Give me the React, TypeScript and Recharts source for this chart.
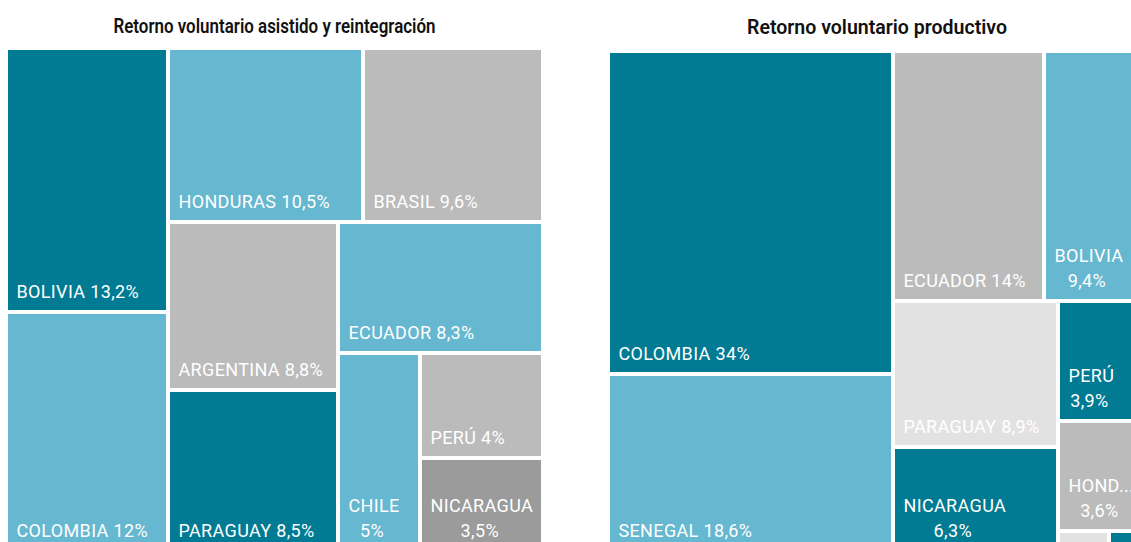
import React from 'react';
import { Treemap } from 'recharts';

const TEAL = '#007B93';
const LIGHT = '#66B7D0';
const GRAY = '#BBBBBB';
const LIGHTGRAY = '#E2E2E2';
const DARKGRAY = '#9B9B9B';

const leftTitle = 'Retorno voluntario asistido y reintegración';
const leftNames = ['BOLIVIA', 'COLOMBIA', 'HONDURAS', 'BRASIL', 'ARGENTINA', 'PARAGUAY', 'ECUADOR', 'CHILE', 'PERÚ', 'NICARAGUA'];
const leftValues = [13.2, 12, 10.5, 9.6, 8.8, 8.5, 8.3, 5, 4, 3.5];
const leftColors = [TEAL, LIGHT, LIGHT, GRAY, GRAY, TEAL, LIGHT, LIGHT, GRAY, DARKGRAY];

const rightTitle = 'Retorno voluntario productivo';
const rightNames = ['COLOMBIA', 'SENEGAL', 'ECUADOR', 'BOLIVIA', 'PARAGUAY', 'NICARAGUA', 'PERÚ', 'HONDURAS', 'OTRO 1', 'OTRO 2'];
const rightValues = [34, 18.6, 14, 9.4, 8.9, 6.3, 3.9, 3.6, 0.38, 0.27];
const rightColors = [TEAL, LIGHT, GRAY, LIGHT, LIGHTGRAY, TEAL, TEAL, GRAY, LIGHTGRAY, TEAL];
const rightGroups = [0, 0, 1, 1, 2, 2, 2, 2, 2, 2];
const rightSubGroups = [0, 0, 0, 0, 0, 0, 1, 1, 1, 1];

const FS = 18;
const LS = 0.35;
const FONT = 'Roboto';

const fmtPct = (v: number) => String(v).replace('.', ',') + '%';

const leftData = leftNames.map((n, i) => ({ name: n, value: leftValues[i], color: leftColors[i], pct: fmtPct(leftValues[i]) }));

const buildNested = () => {
  const groups: any[] = [];
  rightNames.forEach((n, i) => {
    const g = rightGroups[i];
    const s = rightSubGroups[i];
    if (!groups[g]) groups[g] = { name: 'g' + g, children: [] };
    const grp = groups[g];
    if (!grp.children[s]) grp.children[s] = { name: 'g' + g + 's' + s, children: [] };
    grp.children[s].children.push({ name: n, value: rightValues[i], color: rightColors[i], pct: fmtPct(rightValues[i]) });
  });
  return groups;
};
const rightData = buildNested();

let ctx: CanvasRenderingContext2D | null = null;
const measure = (t: string) => {
  if (!ctx) ctx = document.createElement('canvas').getContext('2d');
  if (!ctx) return t.length * FS * 0.6;
  ctx.font = `400 ${FS}px ${FONT}`;
  return ctx.measureText(t).width + t.length * LS;
};

const Tile = (props: any) => {
  const { x, y, width, height, children, color, name, pct } = props;
  if (children && children.length) return <g />;
  if (!width || !height) return <g />;
  const inset = 2;
  const fx = x + inset;
  const fy = y + inset;
  const fw = width - 2 * inset;
  const fh = height - 2 * inset;
  const tx = fx + 8.5;
  const baseline = fy + fh - 11.6;
  const avail = fw - 16;
  let label: any = null;
  const tStyle = { fill: '#fff', fontFamily: FONT, fontSize: FS, fontWeight: 400, letterSpacing: LS } as any;
  if (fh > 45 && fw > 30) {
    const full = `${name} ${pct}`;
    if (measure(full) <= avail) {
      label = (
        <text x={tx} y={baseline} style={tStyle}>
          {full}
        </text>
      );
    } else {
      let first = name as string;
      const availWord = fw - 12;
      if (measure(first) > availWord) {
        while (first.length > 1 && measure(first + '...') > availWord) first = first.slice(0, -1);
        first = first + '...';
      }
      const w1 = measure(first);
      const cx = tx + w1 / 2;
      label = (
        <g>
          <text x={tx} y={baseline - 25} style={tStyle}>
            {first}
          </text>
          <text x={cx - 2} y={baseline} textAnchor="middle" style={tStyle}>
            {pct}
          </text>
        </g>
      );
    }
  }
  return (
    <g>
      <rect x={fx} y={fy} width={fw} height={fh} fill={color} />
      {label}
    </g>
  );
};

export default function App() {
  return (
    <div style={{ position: 'absolute', left: 0, top: 0, width: 1131, height: 542, overflow: 'hidden', background: '#fff' }}>
      <svg style={{ position: 'absolute', left: 0, top: 0 }} width={1131} height={46}>
        <text x={274.5} y={33} textAnchor="middle" textLength={322} lengthAdjust="spacingAndGlyphs" fontFamily={FONT} fontWeight={600} fontSize={20} fill="#111">
          {leftTitle}
        </text>
        <text x={877} y={34} textAnchor="middle" textLength={260} lengthAdjust="spacingAndGlyphs" fontFamily={FONT} fontWeight={600} fontSize={20} fill="#111">
          {rightTitle}
        </text>
      </svg>
      <div style={{ position: 'absolute', left: 6, top: 47.5 }}>
        <Treemap
          width={537}
          height={503}
          data={leftData}
          dataKey="value"
          nameKey="name"
          aspectRatio={0.65}
          isAnimationActive={false}
          content={(p: any) => <Tile {...p} />}
        />
      </div>
      <div style={{ position: 'absolute', left: 608, top: 51 }}>
        <Treemap
          width={538}
          height={500}
          data={rightData}
          dataKey="value"
          nameKey="name"
          aspectRatio={0.65}
          isAnimationActive={false}
          content={(p: any) => <Tile {...p} />}
        />
      </div>
    </div>
  );
}
